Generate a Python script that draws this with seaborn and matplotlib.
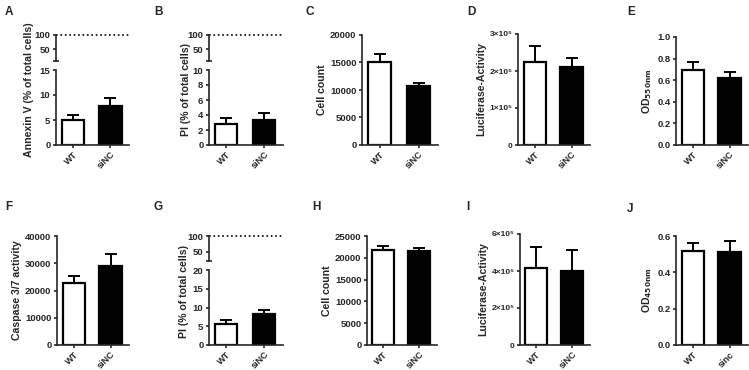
import numpy as np
import matplotlib
matplotlib.use('Agg')
import matplotlib.pyplot as plt
import seaborn as sns

sns.set_style('ticks')
plt.rcParams['font.family'] = ['Liberation Sans', 'DejaVu Sans']
plt.rcParams['font.weight'] = 'bold'
plt.rcParams['axes.labelweight'] = 'bold'
plt.rcParams['axes.linewidth'] = 1.2
plt.rcParams['xtick.major.width'] = 1.2
plt.rcParams['ytick.major.width'] = 1.2
plt.rcParams['xtick.major.size'] = 2.5
plt.rcParams['ytick.major.size'] = 2.5
plt.rcParams['xtick.major.pad'] = 1
plt.rcParams['ytick.major.pad'] = 1.5
plt.rcParams['mathtext.default'] = 'bf'

# data (mean, SEM)
groups = ['WT', 'siNC']
groups_j = ['WT', 'sinc']

annexin_mean = [5.0, 7.9]
annexin_sem = [1.0, 1.6]
pi_b_mean = [2.8, 3.4]
pi_b_sem = [0.8, 0.9]
count_c_mean = [15000, 10700]
count_c_sem = [1500, 500]
luc_d_mean = [2.25e5, 2.1e5]
luc_d_sem = [0.43e5, 0.25e5]
od_e_mean = [0.69, 0.62]
od_e_sem = [0.075, 0.055]

casp_f_mean = [22600, 28900]
casp_f_sem = [2800, 4400]
pi_g_mean = [5.7, 8.2]
pi_g_sem = [0.9, 1.1]
count_h_mean = [21900, 21600]
count_h_sem = [700, 700]
luc_i_mean = [4.15e5, 4.0e5]
luc_i_sem = [1.15e5, 1.15e5]
od_j_mean = [0.515, 0.512]
od_j_sem = [0.045, 0.058]

W, H = 749, 370
fig = plt.figure(figsize=(W / 100, H / 100), dpi=100)

TICK_FS = 6.8
LABEL_FS = 7.6


def px_axes(l, r, top, bottom):
    return fig.add_axes([l / W, 1 - bottom / H, (r - l) / W, (bottom - top) / H])


def bars(ax, labels, mean, sem):
    sns.barplot(x=labels, y=mean, hue=labels, palette=['white', 'black'],
                edgecolor='black', linewidth=1.6, width=0.6, legend=False,
                errorbar=None, ax=ax)
    x = np.arange(len(labels))
    ax.errorbar(x, mean, yerr=[np.zeros(len(sem)), sem], fmt='none',
                ecolor='black', elinewidth=1.4, capsize=4, capthick=1.4, zorder=5)
    ax.set_xlim(-0.45, 1.5)
    ax.set_xticks(x)
    ax.set_xticklabels(labels, rotation=45, ha='right', rotation_mode='anchor',
                       fontsize=TICK_FS - 0.3, fontweight='bold')
    ax.tick_params(axis='y', labelsize=TICK_FS)
    for lab in ax.get_yticklabels():
        lab.set_fontweight('bold')
    sns.despine(ax=ax)


def simple(l, r, top, bottom, labels, mean, sem, ylim, ticks, ylabel, ticklabels=None, pad=2):
    ax = px_axes(l, r, top, bottom)
    bars(ax, labels, mean, sem)
    ax.set_ylim(*ylim)
    ax.set_yticks(ticks)
    if ticklabels is not None:
        ax.set_yticklabels(ticklabels, fontsize=6, fontweight='bold')
    ax.set_ylabel(ylabel, fontsize=LABEL_FS, labelpad=pad)
    return ax


def broken(l, r, up_top, up_bot, lo_top, bottom, labels, mean, sem,
           lo_lim, lo_ticks, up_lim, ylabel, lab_x, lab_y):
    up = px_axes(l, r, up_top, up_bot)
    up.set_xlim(-0.45, 1.5)
    up.set_ylim(*up_lim)
    up.set_yticks([50, 100])
    up.set_yticks([up_lim[0]], minor=True)
    up.tick_params(axis='y', which='minor', length=5, width=1.2, direction='inout')
    up.tick_params(axis='y', labelsize=TICK_FS)
    for lab in up.get_yticklabels():
        lab.set_fontweight('bold')
    up.set_xticks([])
    sns.despine(ax=up, bottom=True)
    up.axhline(100, ls=':', color='black', lw=1.2, clip_on=False)

    lo = px_axes(l, r, lo_top, bottom)
    bars(lo, labels, mean, sem)
    lo.set_ylim(*lo_lim)
    lo.set_yticks(lo_ticks)
    fig.text(lab_x / W, 1 - lab_y / H, ylabel, rotation=90, ha='center',
             va='center', fontsize=LABEL_FS, fontweight='bold')


# row 1
broken(56, 129, 35, 61, 70, 145, groups, annexin_mean, annexin_sem,
       (0, 15), [0, 5, 10, 15], (10, 100), 'Annexin V (% of total cells)', 29, 90)
broken(209, 283, 35, 61, 70, 145, groups, pi_b_mean, pi_b_sem,
       (0, 10), [0, 2, 4, 6, 8, 10], (10, 100), 'PI (% of total cells)', 186, 90)
simple(362, 438, 35, 145, groups, count_c_mean, count_c_sem, (0, 20000),
       [0, 5000, 10000, 15000, 20000], 'Cell count')
simple(518, 590, 34, 145, groups, luc_d_mean, luc_d_sem, (0, 3e5),
       [0, 1e5, 2e5, 3e5], 'Luciferase-Activity',
       ticklabels=['0', '1×10⁵', '2×10⁵', '3×10⁵'])
simple(676, 748, 37, 145, groups, od_e_mean, od_e_sem, (0, 1.0),
       [0.0, 0.2, 0.4, 0.6, 0.8, 1.0], r'OD$_{550nm}$')

# row 2
simple(57, 129, 236, 345, groups, casp_f_mean, casp_f_sem, (0, 40000),
       [0, 10000, 20000, 30000, 40000], 'Caspase 3/7 activity')
broken(209, 283, 236, 261, 270, 345, groups, pi_g_mean, pi_g_sem,
       (0, 20), [0, 5, 10, 15, 20], (20, 100), 'PI (% of total cells)', 184, 292)
simple(367, 437, 236, 345, groups, count_h_mean, count_h_sem, (0, 25000),
       [0, 5000, 10000, 15000, 20000, 25000], 'Cell count')
simple(520, 590, 234, 345, groups, luc_i_mean, luc_i_sem, (0, 6e5),
       [0, 2e5, 4e5, 6e5], 'Luciferase-Activity',
       ticklabels=['0', '2×10⁵', '4×10⁵', '6×10⁵'])
simple(676, 748, 236, 345, groups_j, od_j_mean, od_j_sem, (0, 0.6),
       [0.0, 0.2, 0.4, 0.6], r'OD$_{450nm}$')

# panel letters
letters = ['A', 'B', 'C', 'D', 'E', 'F', 'G', 'H', 'I', 'J']
letter_x = [5, 154, 305, 467, 627, 5, 153, 312, 466, 627]
letter_y = [12, 12, 12, 12, 12, 207, 207, 207, 207, 209]
for t, x, y in zip(letters, letter_x, letter_y):
    fig.text(x / W, 1 - y / H, t, fontsize=8.5, fontweight='bold', va='center')

fig.savefig('out.png', dpi=100)
